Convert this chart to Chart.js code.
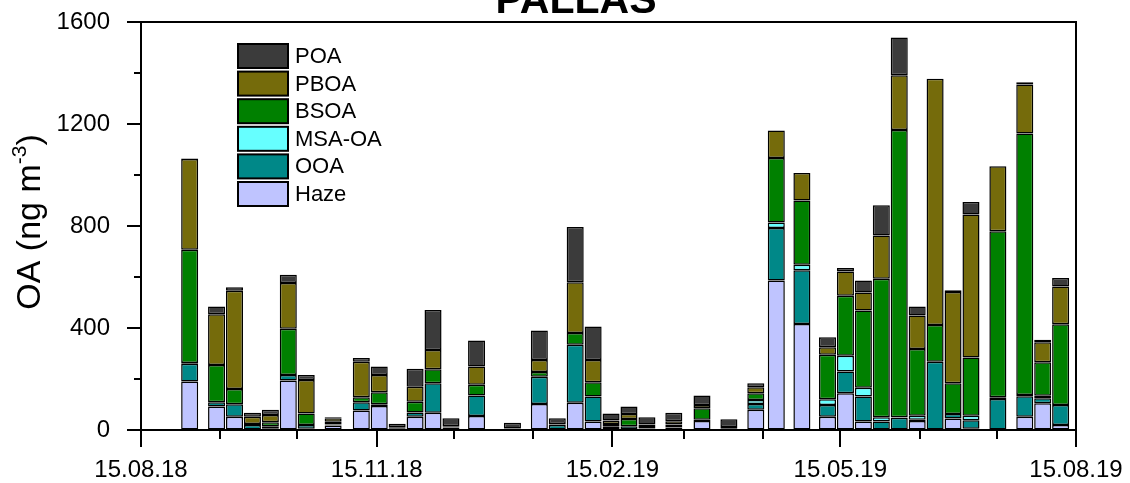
<!DOCTYPE html>
<html>
<head>
<meta charset="utf-8">
<title>PALLAS organic aerosol</title>
<script src="https://cdn.jsdelivr.net/npm/chart.js@4/dist/chart.umd.min.js"></script>
<style>
  html, body { margin: 0; padding: 0; background: #ffffff; }
  #wrap { width: 1130px; height: 483px; position: relative; }
</style>
</head>
<body>
<div id="wrap"><canvas id="chart" width="1130" height="483"></canvas></div>
<script>
// Weekly filter samples (bar centres), Pallas 2018-2019
const sampleDates = [
  '2018-09-03', '2018-09-13T12:00', '2018-09-20T12:00', '2018-09-27T12:00', '2018-10-04T12:00',
  '2018-10-11T12:00', '2018-10-18T12:00', '2018-10-29', '2018-11-09', '2018-11-16',
  '2018-11-23', '2018-11-30', '2018-12-07', '2018-12-14', '2018-12-24',
  '2019-01-07', '2019-01-17T12:00', '2019-01-24T12:00', '2019-01-31T12:00', '2019-02-07T12:00',
  '2019-02-14T12:00', '2019-02-21T12:00', '2019-02-28T12:00', '2019-03-11', '2019-03-22',
  '2019-04-01T12:00', '2019-04-12', '2019-04-20', '2019-04-30', '2019-05-10',
  '2019-05-17', '2019-05-24', '2019-05-31', '2019-06-07', '2019-06-14',
  '2019-06-21', '2019-06-28', '2019-07-05', '2019-07-15T12:00', '2019-07-26',
  '2019-08-02', '2019-08-09'
];

// OA factor concentrations, ng m-3
const haze  = [190, 92, 52, 0, 5, 194, 5, 18, 76, 94, 2, 52, 68, 2, 55, 0, 102, 0, 107, 33, 3, 2, 2, 2, 35, 2, 79, 586, 416, 52, 144, 33, 0, 0, 35, 0, 45, 5, 0, 52, 105, 20];
const ooa   = [70, 17, 49, 20, 10, 22, 15, 4, 33, 7, 3, 17, 115, 8, 80, 2, 107, 20, 227, 98, 10, 13, 4, 8, 5, 3, 23, 206, 210, 46, 85, 98, 33, 48, 5, 268, 18, 33, 122, 80, 20, 78];
const msaOA = [3, 0, 0, 0, 0, 0, 0, 0, 0, 0, 0, 0, 0, 0, 0, 0, 0, 0, 0, 0, 0, 0, 0, 0, 0, 0, 16, 22, 22, 23, 62, 35, 17, 2, 16, 0, 0, 18, 6, 5, 9, 0];
const bsoa  = [444, 146, 60, 4, 15, 181, 45, 10, 19, 47, 3, 42, 55, 3, 42, 2, 18, 2, 46, 56, 11, 28, 6, 12, 45, 3, 26, 253, 252, 174, 235, 303, 543, 1126, 262, 144, 120, 228, 651, 1026, 132, 317];
const pboa  = [356, 199, 385, 28, 29, 179, 131, 14, 140, 68, 3, 59, 76, 3, 72, 2, 48, 2, 199, 88, 13, 20, 10, 12, 13, 4, 24, 108, 108, 30, 96, 70, 170, 215, 131, 965, 358, 561, 255, 192, 78, 148];
const poa   = [2, 30, 14, 16, 20, 33, 20, 4, 14, 33, 14, 70, 157, 30, 102, 22, 115, 22, 217, 131, 28, 29, 28, 34, 37, 30, 15, 0, 0, 39, 13, 47, 118, 148, 35, 0, 7, 49, 0, 9, 10, 33];

const seriesNames  = ['Haze', 'OOA', 'MSA-OA', 'BSOA', 'PBOA', 'POA'];
const seriesValues = [haze, ooa, msaOA, bsoa, pboa, poa];
const seriesColors = ['#bfc4ff', '#008888', '#66ffff', '#008000', '#756b0b', '#3b3b3b'];

// Axis ticks: every 15th of the month, labelled each quarter
const monthTickDates = [
  '2018-08-15', '2018-09-15', '2018-10-15', '2018-11-15', '2018-12-15', '2019-01-15', '2019-02-15',
  '2019-03-15', '2019-04-15', '2019-05-15', '2019-06-15', '2019-07-15', '2019-08-15'
];
const xTickLabels = ['15.08.18', '15.11.18', '15.02.19', '15.05.19', '15.08.19'];
const yTickLabels = ['0', '400', '800', '1200', '1600'];

const chartTitle = 'PALLAS';
const FONT = "'Liberation Sans', Arial, Helvetica, sans-serif";
const ORIGIN = Date.UTC(2018, 7, 15);
const DAY = 86400000;

function toDays(s) {
  const m = s.match(/^(\d+)-(\d+)-(\d+)(?:T(\d+):(\d+))?$/);
  const t = Date.UTC(+m[1], +m[2] - 1, +m[3], +(m[4] || 0), +(m[5] || 0));
  return (t - ORIGIN) / DAY;
}
function dayLabel(v) {
  const d = new Date(ORIGIN + Math.round(v) * DAY);
  const p = n => String(n).padStart(2, '0');
  return p(d.getUTCDate()) + '.' + p(d.getUTCMonth() + 1) + '.' + p(d.getUTCFullYear() % 100);
}

const xDays = sampleDates.map(toDays);
const tickDays = monthTickDates.map(toDays);

const datasets = seriesNames.map((name, i) => ({
  label: name,
  data: seriesValues[i].map((v, j) => ({ x: xDays[j], y: v })),
  backgroundColor: seriesColors[i],
  borderColor: '#000000',
  borderWidth: 1.5,
  borderSkipped: false,
  barPercentage: 0.95,
  categoryPercentage: 1.0
}));

// Frame, tick marks, axis title, chart title and legend
const decorations = {
  id: 'decorations',
  afterDraw(chart) {
    const ctx = chart.ctx;
    const { left, right, top, bottom } = chart.chartArea;
    const xs = chart.scales.x, ys = chart.scales.y;
    ctx.save();
    ctx.strokeStyle = '#000000';
    ctx.lineWidth = 2;
    ctx.beginPath();
    ctx.rect(Math.round(left), Math.round(top), Math.round(right) - Math.round(left), Math.round(bottom) - Math.round(top));
    ctx.stroke();

    // y ticks
    ys.ticks.forEach(t => {
      const y = Math.round(ys.getPixelForValue(t.value));
      const major = yTickLabels.includes(String(t.value));
      ctx.beginPath();
      ctx.moveTo(Math.round(left), y);
      ctx.lineTo(Math.round(left) - (major ? 14 : 7), y);
      ctx.stroke();
    });
    // x ticks
    xs.ticks.forEach(t => {
      const x = Math.round(xs.getPixelForValue(t.value));
      const major = xTickLabels.includes(dayLabel(t.value));
      ctx.beginPath();
      ctx.moveTo(x, Math.round(bottom));
      ctx.lineTo(x, Math.round(bottom) + (major ? 17 : 9));
      ctx.stroke();
    });

    // y axis title with superscript
    ctx.fillStyle = '#000000';
    ctx.textBaseline = 'alphabetic';
    ctx.textAlign = 'left';
    const fs = 34;
    const mainTxt = 'OA (ng m', supTxt = '-3', endTxt = ')';
    ctx.font = fs + 'px ' + FONT;
    const w1 = ctx.measureText(mainTxt).width;
    const w3 = ctx.measureText(endTxt).width;
    ctx.font = Math.round(fs * 0.62) + 'px ' + FONT;
    const w2 = ctx.measureText(supTxt).width;
    const total = w1 + w2 + w3;
    ctx.translate(40, 222);
    ctx.rotate(-Math.PI / 2);
    const x0 = -total / 2;
    ctx.font = fs + 'px ' + FONT;
    ctx.fillText(mainTxt, x0, 0);
    ctx.font = Math.round(fs * 0.62) + 'px ' + FONT;
    ctx.fillText(supTxt, x0 + w1, -fs * 0.42);
    ctx.font = fs + 'px ' + FONT;
    ctx.fillText(endTxt, x0 + w1 + w2, 0);
    ctx.setTransform(1, 0, 0, 1, 0, 0);

    // chart title
    ctx.font = 'bold 41px ' + FONT;
    ctx.textAlign = 'center';
    ctx.fillText(chartTitle, 576, 13);

    // legend, top entry is the last stacked series
    const items = chart.data.datasets.slice().reverse();
    ctx.textAlign = 'left';
    ctx.textBaseline = 'middle';
    ctx.font = '22px ' + FONT;
    items.forEach((ds, k) => {
      const by = 44 + k * 27.6;
      ctx.fillStyle = ds.backgroundColor;
      ctx.fillRect(238, by, 50, 24);
      ctx.lineWidth = 2;
      ctx.strokeStyle = '#000000';
      ctx.strokeRect(238, by, 50, 24);
      ctx.fillStyle = '#000000';
      ctx.fillText(ds.label, 295, by + 13);
    });
    ctx.restore();
  }
};

Chart.defaults.font.family = FONT;
Chart.defaults.color = '#000000';

// invisible tick marks: they only set the gap between axis and labels
const spacerGrid = len => ({
  display: true, drawOnChartArea: false, drawTicks: true, tickLength: len,
  color: 'rgba(0,0,0,0)', tickColor: 'rgba(0,0,0,0)'
});

new Chart(document.getElementById('chart'), {
  type: 'bar',
  data: { datasets },
  options: {
    responsive: false,
    devicePixelRatio: 1,
    animation: false,
    layout: { padding: { top: 22, right: 54, bottom: 0, left: 0 } },
    plugins: { legend: { display: false }, tooltip: { enabled: false }, title: { display: false } },
    scales: {
      x: {
        type: 'linear',
        stacked: true,
        offset: false,
        min: 0,
        max: toDays('2019-08-15'),
        grid: spacerGrid(26),
        border: { display: false },
        afterBuildTicks: s => { s.ticks = tickDays.map(v => ({ value: v })); },
        afterFit: s => { s.height = 53; },
        ticks: {
          autoSkip: false,
          maxRotation: 0,
          padding: 0,
          font: { size: 24 },
          color: '#000000',
          callback: v => { const l = dayLabel(v); return xTickLabels.includes(l) ? l : ''; }
        }
      },
      y: {
        type: 'linear',
        stacked: true,
        min: 0,
        max: 1600,
        grid: spacerGrid(31),
        border: { display: false },
        afterFit: s => { s.width = 141; },
        ticks: {
          stepSize: 200,
          padding: 0,
          font: { size: 24 },
          color: '#000000',
          callback: v => yTickLabels.includes(String(v)) ? String(v) : ''
        }
      }
    }
  },
  plugins: [decorations]
});
</script>
</body>
</html>
